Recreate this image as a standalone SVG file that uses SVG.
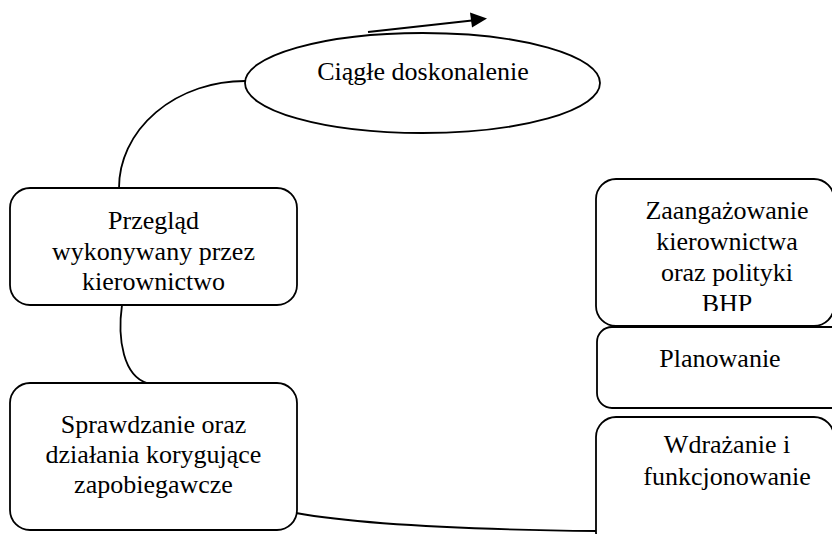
<svg xmlns="http://www.w3.org/2000/svg" width="832" height="534" viewBox="0 0 832 534">
<style>
.box{fill:#fff;stroke:#000;stroke-width:1.8}
.con{fill:none;stroke:#000;stroke-width:1.8}
text{font-family:"Liberation Serif","Times New Roman",serif;font-size:26px;fill:#000;text-anchor:middle}
</style>
<defs>
<marker id="ah" markerWidth="10" markerHeight="8" refX="9" refY="4" orient="auto" markerUnits="userSpaceOnUse" viewBox="0 0 10 8">
<path d="M0,0 L10,4 L0,8 Z" fill="#000"/>
</marker>
<clipPath id="clipZ"><rect x="596" y="179" width="240" height="132"/></clipPath>
</defs>
<rect width="832" height="534" fill="#fff"/>
<g id="connectors">
<path class="con" d="M245,81 A126,107 0 0 0 119,188"/>
<path class="con" d="M122,305 C117,340 124,376 147,383"/>
<path class="con" d="M296,513 C340,521 420,529 597,531"/>
<path d="M368,32 L472,20.5" stroke="#000" stroke-width="2.2" fill="none"/>
<path d="M487,18.5 L470,12.5 L472,27.5 Z" fill="#000"/>
</g>
<g id="ciagle">
<ellipse class="box" cx="422.5" cy="83" rx="177.5" ry="50"/>
<text x="423" y="80">Ciągłe doskonalenie</text>
</g>
<g id="przeglad">
<rect class="box" x="10" y="188" width="287" height="117" rx="20"/>
<text x="153.5" y="229">Przegląd</text>
<text x="153.5" y="260">wykonywany przez</text>
<text x="153.5" y="290">kierownictwo</text>
</g>
<g id="sprawdzanie">
<rect class="box" x="10" y="383" width="287" height="147" rx="20"/>
<text x="153.5" y="433">Sprawdzanie oraz</text>
<text x="153.5" y="463">działania korygujące</text>
<text x="153.5" y="493">zapobiegawcze</text>
</g>
<g id="zaangazowanie">
<rect class="box" x="596" y="179" width="238" height="147" rx="20"/>
<g clip-path="url(#clipZ)">
<text x="727" y="219">Zaangażowanie</text>
<text x="727" y="250">kierownictwa</text>
<text x="727" y="281">oraz polityki</text>
<text x="727" y="312">BHP</text>
</g>
</g>
<g id="planowanie">
<rect class="box" x="597" y="327" width="260" height="81" rx="15"/>
<text x="720" y="367">Planowanie</text>
</g>
<g id="wdrazanie">
<rect class="box" x="596" y="417" width="238" height="135" rx="20"/>
<text x="727" y="453">Wdrażanie i</text>
<text x="727" y="485">funkcjonowanie</text>
</g>
</svg>
